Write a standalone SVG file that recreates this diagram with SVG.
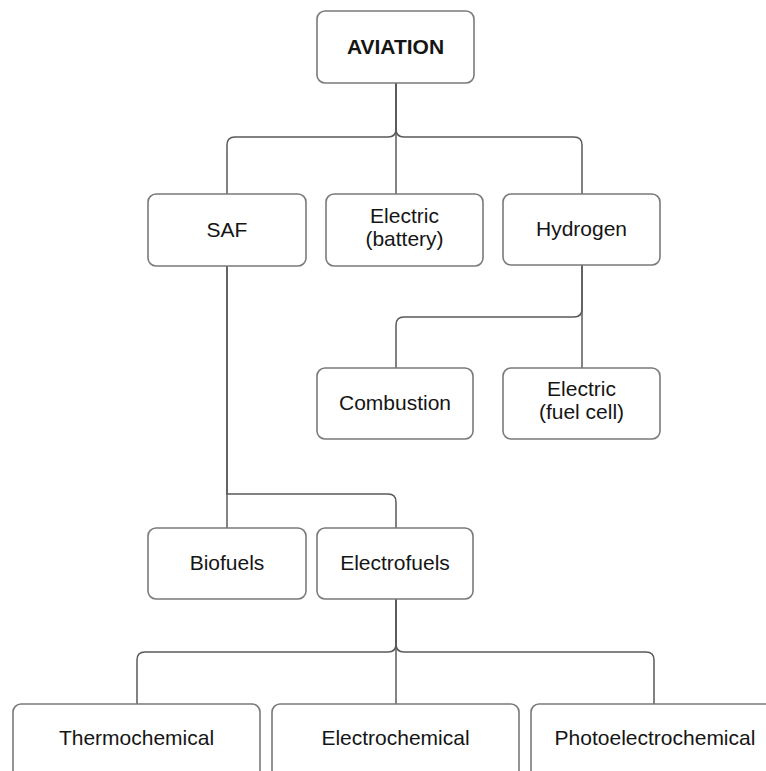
<svg xmlns="http://www.w3.org/2000/svg" width="766" height="771" viewBox="0 0 766 771">
<style>
.box{fill:#fff;stroke:#7a7a7a;stroke-width:1.6}
.t{font-family:"Liberation Sans",Arial,sans-serif;font-size:21px;fill:#151515;text-anchor:middle}
.b{font-weight:bold}
.c{fill:none;stroke:#5a5a5a;stroke-width:1.5}
</style>
<rect width="766" height="771" fill="#fff"/>
<g id="connectors">
<path class="c" d="M396,83 V194"/>
<path class="c" d="M396,83 V129 Q396,137 388,137 H235 Q227,137 227,145 V194"/>
<path class="c" d="M396,83 V129 Q396,137 404,137 H574 Q582,137 582,145 V194"/>
<path class="c" d="M582,265 V368"/>
<path class="c" d="M582,265 V309 Q582,317 574,317 H404 Q396,317 396,325 V368"/>
<path class="c" d="M227,266 V528"/>
<path class="c" d="M227,266 V494 H388 Q396,494 396,502 V528"/>
<path class="c" d="M396,599 V704"/>
<path class="c" d="M396,599 V644 Q396,652 388,652 H145 Q137,652 137,660 V704"/>
<path class="c" d="M396,599 V644 Q396,652 404,652 H646 Q654,652 654,660 V704"/>
</g>
<g id="aviation"><rect class="box" x="317" y="11" width="157" height="72" rx="8"/><text class="t b" x="395.5" y="54">AVIATION</text></g>
<g id="saf"><rect class="box" x="148" y="194" width="158" height="72" rx="8"/><text class="t" x="227" y="237">SAF</text></g>
<g id="electric-battery"><rect class="box" x="326" y="194" width="157" height="72" rx="8"/><text class="t" x="404.5" y="223">Electric</text><text class="t" x="404.5" y="246">(battery)</text></g>
<g id="hydrogen"><rect class="box" x="503" y="194" width="157" height="71" rx="8"/><text class="t" x="581.5" y="236">Hydrogen</text></g>
<g id="combustion"><rect class="box" x="317" y="368" width="156" height="71" rx="8"/><text class="t" x="395" y="410">Combustion</text></g>
<g id="electric-fuel-cell"><rect class="box" x="503" y="368" width="157" height="71" rx="8"/><text class="t" x="581.5" y="396">Electric</text><text class="t" x="581.5" y="419">(fuel cell)</text></g>
<g id="biofuels"><rect class="box" x="148" y="528" width="158" height="71" rx="8"/><text class="t" x="227" y="570">Biofuels</text></g>
<g id="electrofuels"><rect class="box" x="317" y="528" width="156" height="71" rx="8"/><text class="t" x="395" y="570">Electrofuels</text></g>
<g id="thermochemical"><rect class="box" x="13" y="704" width="247" height="100" rx="8"/><text class="t" x="136.5" y="745">Thermochemical</text></g>
<g id="electrochemical"><rect class="box" x="272" y="704" width="247" height="100" rx="8"/><text class="t" x="395.5" y="745">Electrochemical</text></g>
<g id="photoelectrochemical"><rect class="box" x="531" y="704" width="247" height="100" rx="8"/><text class="t" x="655" y="745">Photoelectrochemical</text></g>
</svg>
